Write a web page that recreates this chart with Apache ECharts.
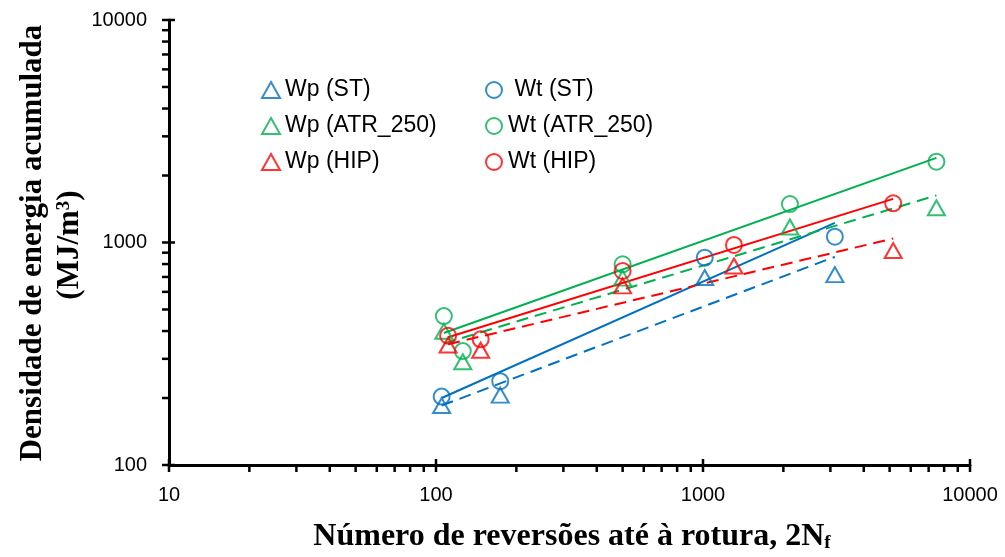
<!DOCTYPE html>
<html>
<head>
<meta charset="utf-8">
<script src="https://cdn.jsdelivr.net/npm/echarts@6/dist/echarts.min.js"></script>
<style>
html,body{margin:0;padding:0;background:#fff;}
#chart{width:1005px;height:557px;}
</style>
</head>
<body>
<div id="chart"></div>
<script>
// ---- data ----
const wpST   = [[105,185],[174,206],[1015,696],[3118,717]];
const wtST   = [[105,203],[174,238],[1015,855],[3118,1062]];
const wpATR  = [[107,399],[126,291],[500,692],[2116,1174],[7486,1432]];
const wtATR  = [[107,467],[126,325],[500,798],[2116,1489],[7486,2307]];
const wpHIP  = [[111,346],[147,328],[500,638],[1306,784],[5157,920]];
const wtHIP  = [[111,381],[147,367],[500,745],[1306,975],[5157,1500]];

// trend lines (power fits, endpoints)
const fitWpST  = [[105,185],[3118,862]];
const fitWtST  = [[105,200],[3118,1225]];
const fitWpATR = [[107,352],[7486,1628]];
const fitWtATR = [[107,392],[7486,2400]];
const fitWpHIP = [[111,349],[5157,1042]];
const fitWtHIP = [[111,375],[5157,1570]];

const xMajorTicks = [10,100,1000,10000];
const xMinorTicks = [20,30,40,50,60,70,80,90,200,300,400,500,600,700,800,900,2000,3000,4000,5000,6000,7000,8000,9000];
const yMajorTicks = [100,1000,10000];
const yMinorTicks = [200,300,400,500,600,700,800,900,2000,3000,4000,5000,6000,7000,8000,9000];

const BLUE='#0070C0', GREEN='#00B050', RED='#FF0000';

const chart = echarts.init(document.getElementById('chart'));

function scatter(name, data, symbol, color){
  return {
    type:'scatter', name, data, symbol,
    symbolSize: symbol==='triangle' ? [17,15] : 16,
    itemStyle:{color:'rgba(0,0,0,0)', borderColor:color, borderWidth:2},
    z:5, silent:true
  };
}
function fit(name, data, color, dashed){
  return {
    type:'line', name, data, showSymbol:false, symbol:'none',
    lineStyle:{color, width:2, type: dashed ? [12,7] : 'solid'},
    z:3, silent:true
  };
}

const tickData = []
  .concat(xMajorTicks.map(v=>[v,100,0]))
  .concat(xMinorTicks.map(v=>[v,100,1]))
  .concat(yMajorTicks.map(v=>[10,v,2]))
  .concat(yMinorTicks.map(v=>[10,v,3]));

const labelFont = {fontSize:20, fontFamily:'Liberation Sans', color:'#000',
  formatter:function(v){ return String(Math.round(v)); }};

const option = {
  animation:false,
  backgroundColor:'#fff',
  grid:{left:169, right:35, top:20, bottom:92},
  xAxis:{
    type:'log', logBase:10, min:10, max:10000,
    axisLine:{show:true, lineStyle:{color:'#000', width:3}},
    axisTick:{show:false}, minorTick:{show:false},
    splitLine:{show:false},
    axisLabel:Object.assign({margin:20}, labelFont)
  },
  yAxis:{
    type:'log', logBase:10, min:100, max:10000,
    axisLine:{show:true, lineStyle:{color:'#000', width:3}},
    axisTick:{show:false}, minorTick:{show:false},
    splitLine:{show:false},
    axisLabel:Object.assign({margin:22}, labelFont)
  },
  legend:[
    {
      orient:'vertical', left:256, top:72, itemGap:10,
      itemWidth:18, itemHeight:16,
      data:['Wp (ST)','Wp (ATR_250)','Wp (HIP)'],
      textStyle:{fontSize:23, fontFamily:'Liberation Sans', color:'#000', lineHeight:26},
      selectedMode:false
    },
    {
      orient:'vertical', left:480, top:72, itemGap:10,
      itemWidth:18, itemHeight:16,
      data:[' Wt (ST)','Wt (ATR_250)','Wt (HIP)'],
      textStyle:{fontSize:23, fontFamily:'Liberation Sans', color:'#000', lineHeight:26},
      selectedMode:false
    }
  ],
  graphic:[
    {
      type:'text', x:572, y:537,
      style:{
        text:'{b|Número de reversões até à rotura, 2N}{s|f}',
        align:'center', verticalAlign:'middle',
        rich:{
          b:{fontSize:32, fontFamily:'Liberation Serif', fontWeight:'bold', fill:'#000'},
          s:{fontSize:19, fontFamily:'Liberation Serif', fontWeight:'bold', fill:'#000', verticalAlign:'bottom'}
        }
      }
    },
    {
      type:'text', x:33, y:243, rotation:Math.PI/2,
      style:{
        text:'Densidade de energia acumulada',
        align:'center', verticalAlign:'middle',
        fontSize:31, fontFamily:'Liberation Serif', fontWeight:'bold', fill:'#000'
      }
    },
    {
      type:'text', x:70, y:245, rotation:Math.PI/2,
      style:{
        text:'{b|(MJ/m}{s|3}{b|)}',
        align:'center', verticalAlign:'middle',
        rich:{
          b:{fontSize:31, fontFamily:'Liberation Serif', fontWeight:'bold', fill:'#000'},
          s:{fontSize:19, fontFamily:'Liberation Serif', fontWeight:'bold', fill:'#000', verticalAlign:'top'}
        }
      }
    }
  ],
  series:[
    fit('fit Wp (ST)', fitWpST, BLUE, true),
    fit('fit Wt (ST)', fitWtST, BLUE, false),
    fit('fit Wp (ATR_250)', fitWpATR, GREEN, true),
    fit('fit Wt (ATR_250)', fitWtATR, GREEN, false),
    fit('fit Wp (HIP)', fitWpHIP, RED, true),
    fit('fit Wt (HIP)', fitWtHIP, RED, false),
    scatter('Wp (ST)', wpST, 'triangle', BLUE),
    scatter(' Wt (ST)', wtST, 'circle', BLUE),
    scatter('Wp (ATR_250)', wpATR, 'triangle', GREEN),
    scatter('Wt (ATR_250)', wtATR, 'circle', GREEN),
    scatter('Wp (HIP)', wpHIP, 'triangle', RED),
    scatter('Wt (HIP)', wtHIP, 'circle', RED),
    {
      type:'custom', name:'ticks', data:tickData, clip:false, silent:true, z:10,
      renderItem:function(params, api){
        const p = api.coord([api.value(0), api.value(1)]);
        const code = api.value(2);
        let shape;
        if(code===0) shape={x1:p[0],y1:p[1]-6,x2:p[0],y2:p[1]+7};
        else if(code===1) shape={x1:p[0],y1:p[1],x2:p[0],y2:p[1]+7};
        else if(code===2) shape={x1:p[0]-7,y1:p[1],x2:p[0]+6,y2:p[1]};
        else shape={x1:p[0]-7,y1:p[1],x2:p[0],y2:p[1]};
        return {type:'line', shape, style:{stroke:'#000', lineWidth:2.5}};
      }
    }
  ]
};
chart.setOption(option);
</script>
</body>
</html>
